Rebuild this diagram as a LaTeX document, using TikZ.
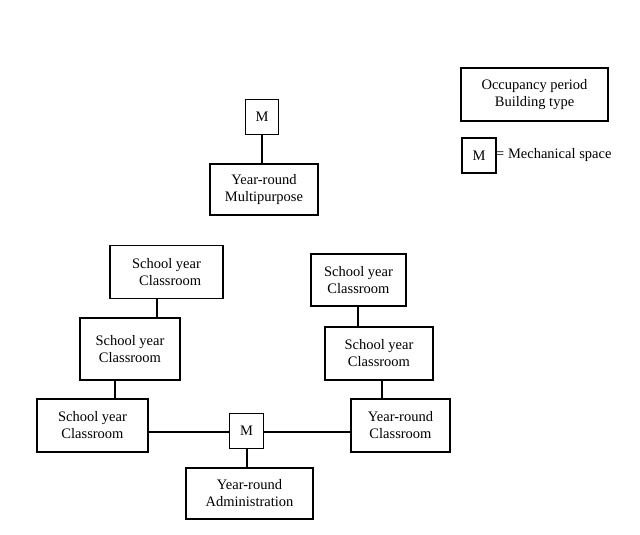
\documentclass[tikz,border=0pt]{standalone}
\usepackage{fontspec}
\setmainfont{Liberation Serif}
\begin{document}
\begin{tikzpicture}[x=1pt,y=-1pt,
  blk/.style={draw,line width=1.2pt,align=center,inner sep=0pt,font=\fontsize{14.5}{17}\selectfont},
  mbox/.style={draw,line width=1.2pt,inner sep=0pt,minimum width=33pt,minimum height=35pt,font=\fontsize{14.5}{17}\selectfont},
  link/.style={line width=1.6pt}]
\useasboundingbox (0,0) rectangle (640,535);
\node[mbox] (mtop) at (262,117) {M};
\node[blk,minimum width=108pt,minimum height=51pt] (multi) at (264,189.5) {Year-round\\Multipurpose};
\node[blk,minimum width=147pt,minimum height=53pt] (legend) at (534.5,94.5) {Occupancy period\\Building type};
\node[mbox,minimum width=34pt] (mleg) at (479,155.5) {M};
\node[anchor=west,inner sep=0pt,font=\fontsize{14.5}{17}\selectfont] (mtext) at (496,155.5) {= Mechanical space};
\node[blk,minimum width=113pt,minimum height=53pt] (sl1) at (166.5,272) {School year\\\ \ Classroom};
\node[blk,minimum width=100pt,minimum height=62pt] (sl2) at (130,349) {School year\\Classroom};
\node[blk,minimum width=111pt,minimum height=53pt] (sl3) at (92.5,425.5) {School year\\Classroom};
\node[mbox,minimum width=34pt] (mc) at (246.5,431) {M};
\node[blk,minimum width=127pt,minimum height=51pt] (adm) at (249.5,493.5) {Year-round\\Administration};
\node[blk,minimum width=95pt,minimum height=52pt] (sr1) at (358.5,280) {School year\\Classroom};
\node[blk,minimum width=108pt,minimum height=53pt] (sr2) at (379,353.5) {School year\\Classroom};
\node[blk,minimum width=99pt,minimum height=53pt] (yrc) at (400.5,425.5) {Year-round\\Classroom};
\draw[link] (mtop.south) -- (multi.north -| mtop.south);
\draw[link] (sl1.south -| 157,0) -- (sl2.north -| 157,0);
\draw[link] (sl2.south -| 115,0) -- (sl3.north -| 115,0);
\draw[link] (sl3.east |- 0,432) -- (mc.west |- 0,432);
\draw[link] (mc.east |- 0,432) -- (yrc.west |- 0,432);
\draw[link] (mc.south -| 247,0) -- (adm.north -| 247,0);
\draw[link] (sr1.south -| 358,0) -- (sr2.north -| 358,0);
\draw[link] (sr2.south -| 382,0) -- (yrc.north -| 382,0);
\end{tikzpicture}
\end{document}
